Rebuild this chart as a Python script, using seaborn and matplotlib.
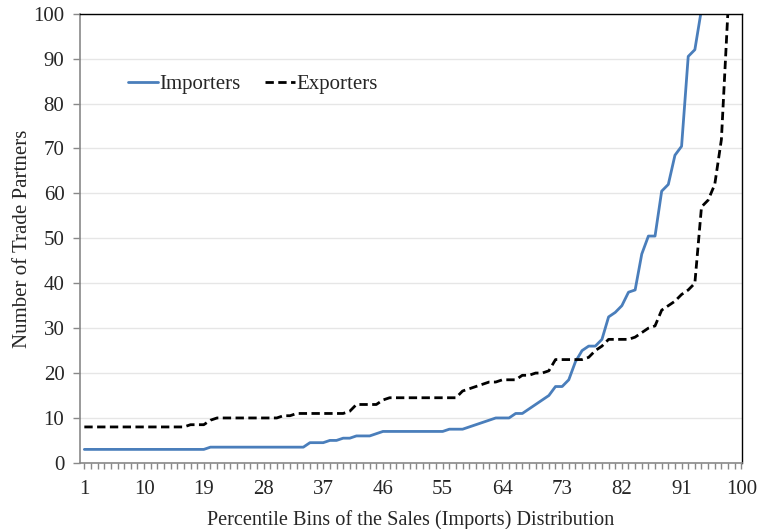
import numpy as np
import pandas as pd
import seaborn as sns
import matplotlib.pyplot as plt
from matplotlib.ticker import MultipleLocator, FixedLocator

# Data
bins = list(range(1, 101))

importers = ([3.0] * 19 + [3.5] * 15 +
             [4.5, 4.5, 4.5, 5.0, 5.0, 5.5, 5.5, 6.0, 6.0, 6.0, 6.5] +
             [7.0] * 10 +
             [7.5, 7.5, 7.5, 8.0, 8.5, 9.0, 9.5, 10.0, 10.0, 10.0,
              11.0, 11.0, 12.0, 13.0, 14.0, 15.0, 17.0, 17.0, 18.5, 22.5,
              25.0, 26.0, 26.0, 27.5, 32.5, 33.5, 35.0, 38.0, 38.5, 46.5,
              50.5, 50.5, 60.5, 62.0, 68.5, 70.5, 90.5, 92.0, 101.0, 101.0,
              101.0, 101.0, 101.0, 101.0, 101.0])

exporters = ([8.0] * 16 + [8.5, 8.5, 8.5, 9.5] + [10.0] * 10 +
             [10.5, 10.5] + [11.0] * 8 +
             [11.5, 13.0, 13.0, 13.0, 13.0, 14.0] + [14.5] * 11 +
             [16.0, 16.5, 17.0, 17.5, 18.0, 18.0, 18.5, 18.5, 18.5,
              19.5, 19.5, 20.0, 20.0, 20.5, 23.0, 23.0, 23.0, 23.0, 23.0,
              23.5, 25.0, 26.0, 27.5, 27.5, 27.5, 27.5, 28.0, 29.0, 30.0,
              30.5, 34.0, 35.0, 36.0, 37.5, 38.5, 40.0, 57.0, 58.5, 62.0,
              72.0, 101.0, 101.0, 101.0])

df = pd.DataFrame({"bin": bins, "Importers": importers, "Exporters": exporters})

sns.set_style("white")
plt.rcParams["font.family"] = ["Liberation Serif", "DejaVu Serif"]

fig = plt.figure(figsize=(7.59, 5.29), dpi=100)
ax = fig.add_axes([0.105, 0.125, 0.873, 0.849])

ax.yaxis.grid(True, color="#e6e6e6", linewidth=1)
ax.set_axisbelow(True)

sns.lineplot(data=df, x="bin", y="Importers", ax=ax, color="#4a7ebb",
             linewidth=2, label="Importers")
sns.lineplot(data=df, x="bin", y="Exporters", ax=ax, color="black",
             linewidth=2, linestyle=(0, (3, 1.6)), label="Exporters")

ax.set_xlim(0.3, 100.15)
ax.set_ylim(0, 100)
ax.xaxis.set_major_locator(FixedLocator(list(range(1, 101, 9))))
ax.xaxis.set_minor_locator(MultipleLocator(1))
ax.yaxis.set_major_locator(MultipleLocator(10))

ax.tick_params(axis="x", which="both", direction="out", color="#898989",
               length=4, width=1, labelsize=15, pad=8, bottom=True)
ax.tick_params(axis="y", which="major", direction="out", color="#898989",
               length=5, width=1, labelsize=15, pad=6, left=True)

for side in ["left", "bottom"]:
    ax.spines[side].set_color("#898989")
    ax.spines[side].set_linewidth(1.2)
for side in ["top", "right"]:
    ax.spines[side].set_visible(True)
    ax.spines[side].set_color("black")
    ax.spines[side].set_linewidth(1)

ax.set_xlabel("Percentile Bins of the Sales (Imports) Distribution", fontsize=14.6, labelpad=8)
ax.set_ylabel("Number of Trade Partners", fontsize=15, labelpad=1)

ax.legend(loc="upper left", bbox_to_anchor=(0.045, 0.907), ncol=2, frameon=False,
          fontsize=15, handlelength=1.45, columnspacing=1.15, handletextpad=0.05)

plt.savefig("out.png", dpi=100)
